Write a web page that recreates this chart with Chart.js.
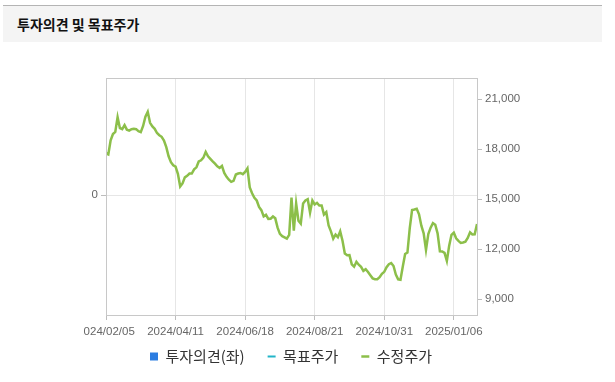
<!DOCTYPE html>
<html>
<head>
<meta charset="utf-8">
<script src="https://cdn.jsdelivr.net/npm/chart.js@4/dist/chart.umd.min.js"></script>
<style>
  html, body { margin:0; padding:0; background:#ffffff; width:615px; height:382px; overflow:hidden; }
  #head { position:absolute; left:3px; top:5px; width:599px; height:36px; background:#f4f4f4; border-top:1px solid #b4b4b4; }
  #head span { position:absolute; left:14px; top:8px; font: bold 14px "Noto Sans CJK KR", sans-serif; color:#111; letter-spacing:0px; }
  #wrap { position:absolute; left:83px; top:45px; width:532px; height:337px; overflow:hidden; }
  #c { position:absolute; left:-41px; top:0; }
</style>
</head>
<body>
<div id="head"><span>투자의견 및 목표주가</span></div>
<div id="wrap"><canvas id="c" width="498" height="341"></canvas></div>
<script>
// ---- data ----
const seriesNames = ['투자의견(좌)', '목표주가', '수정주가'];
const xTickLabels = ['2024/02/05','2024/04/11','2024/06/18','2024/08/21','2024/10/31','2025/01/06'];
const xTickStep = 30;
const rightTicks = [9000, 12000, 15000, 18000, 21000];
const leftTicks = [0];
const opinionValues = [];
const targetPrices = [];
const adjustedPrices = [
 17730,17670,18520,18900,19030,19910,19250,19190,19430,19160,
 19100,19190,19220,19190,19070,19010,19380,19940,20230,19570,
 19350,19210,18960,18830,18730,18510,18110,17560,17210,17020,
 16940,16510,15750,15930,16300,16390,16530,16530,16780,16900,
 17250,17320,17480,17820,17560,17410,17260,17120,16960,16870,
 16990,16560,16330,16160,16030,16090,16470,16530,16560,16490,
 16630,16840,15690,15340,15070,14910,14520,14330,13960,14050,
 13810,13820,13950,13840,13280,12910,12770,12700,12620,12850,
 15090,13100,14730,13700,13520,14730,14910,14990,14190,14910,
 14670,14770,14610,14610,14070,14210,13410,13060,12620,12860,
 12710,13060,12500,11730,11620,11630,11080,10940,11230,11060,
 10930,10690,10790,10620,10430,10240,10190,10190,10310,10510,
 10630,10910,11090,11160,10980,10470,10180,10150,10950,11700,
 11790,13250,14340,14370,14410,14080,13400,12940,11950,12900,
 13280,13550,13460,12940,11860,11850,11770,11290,12200,12850,
 12980,12640,12490,12370,12390,12440,12660,13000,12870,12880,
 13500
];

const labels = adjustedPrices.map((_, i) => i);
const xTickPositions = xTickLabels.map((_, i) => i * xTickStep);

const frame = {
  id: 'frame',
  afterLayout(chart) {
    if (chart.legend) { chart.legend.top -= 12; chart.legend.bottom -= 12; }
  },
  afterDatasetsDraw(chart) {
    const a = chart.chartArea, ctx = chart.ctx;
    ctx.save();
    ctx.strokeStyle = '#c8c8c8';
    ctx.lineWidth = 1;
    ctx.strokeRect(Math.round(a.left) + 0.5, Math.round(a.top) + 0.5, Math.round(a.right - a.left), Math.round(a.bottom - a.top));
    ctx.restore();
  }
};

const tickFont = { family: '"Liberation Sans", Arial, sans-serif', size: 11.5 };

new Chart(document.getElementById('c'), {
  data: {
    labels: labels,
    datasets: [
      { type: 'bar', label: seriesNames[0], data: opinionValues, backgroundColor: '#2b7de1', borderWidth: 0, yAxisID: 'yL', pointStyle: 'rect' },
      { type: 'line', label: seriesNames[1], data: targetPrices, borderColor: '#22b5c8', backgroundColor: '#22b5c8', borderWidth: 2, pointRadius: 0, yAxisID: 'yR', pointStyle: 'line' },
      { type: 'line', label: seriesNames[2], data: adjustedPrices, borderColor: '#8cbf4a', backgroundColor: '#8cbf4a', borderWidth: 2.5, pointRadius: 0, tension: 0, yAxisID: 'yR', pointStyle: 'line', borderJoinStyle: 'miter' }
    ]
  },
  options: {
    responsive: false,
    animation: false,
    devicePixelRatio: 1,
    layout: { padding: { top: 33, bottom: 0, left: 0, right: 0 } },
    plugins: {
      legend: {
        position: 'bottom',
        labels: {
          usePointStyle: true,
          pointStyleWidth: 8,
          boxHeight: 8,
          padding: 23,
          color: '#333',
          font: { family: '"Noto Sans CJK KR", sans-serif', size: 15 }
        }
      },
      tooltip: { enabled: false }
    },
    scales: {
      x: {
        type: 'linear',
        offset: false,
        min: 0,
        max: labels.length - 1,
        afterBuildTicks: s => { s.ticks = xTickPositions.map(v => ({ value: v })); },
        afterFit: s => { s.height = 23; },
        ticks: {
          autoSkip: false, maxRotation: 0, color: '#666', font: tickFont, padding: 5,
          callback: v => xTickLabels[Math.round(v / xTickStep)]
        },
        grid: { offset: false, color: '#e6e6e6', tickColor: '#bdbdbd', tickLength: 5 },
        border: { color: '#c8c8c8' }
      },
      yL: {
        position: 'left',
        min: -1,
        max: 0.98,
        afterBuildTicks: s => { s.ticks = leftTicks.map(v => ({ value: v })); },
        afterFit: s => { s.width = 64; },
        ticks: { color: '#666', font: tickFont, padding: 3 },
        grid: { color: '#e6e6e6', tickColor: '#bdbdbd', tickLength: 5 },
        border: { color: '#c8c8c8' }
      },
      yR: {
        position: 'right',
        min: 8040,
        max: 22260,
        afterBuildTicks: s => { s.ticks = rightTicks.map(v => ({ value: v })); },
        afterFit: s => { s.width = 63; },
        ticks: { color: '#666', font: tickFont, padding: 3, callback: v => v.toLocaleString('en-US') },
        grid: { drawOnChartArea: false, tickColor: '#bdbdbd', tickLength: 5 },
        border: { color: '#c8c8c8' }
      }
    }
  },
  plugins: [frame]
});
</script>
</body>
</html>
